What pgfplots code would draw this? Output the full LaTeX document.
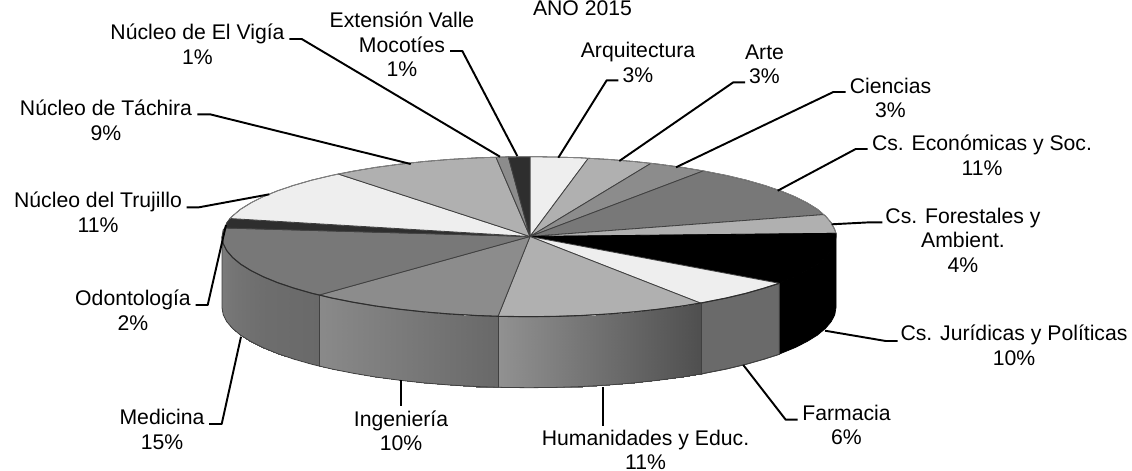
\documentclass[border=0pt]{standalone}
\usepackage{fontspec}
\setmainfont{Liberation Sans}
\usepackage{pgfplots}
\pgfplotsset{compat=1.18}
\definecolor{cLt}{HTML}{EEEEEE}
\definecolor{cMd}{HTML}{B0B0B0}
\definecolor{cGr}{HTML}{8C8C8C}
\definecolor{cDk}{HTML}{787878}
\definecolor{cXd}{HTML}{2E2E2E}
\definecolor{cWl}{HTML}{6A6A6A}
\definecolor{cEd}{HTML}{404040}
\definecolor{cRm}{HTML}{808080}
\tikzset{
  slice/.style={draw=cEd, line width=0.6pt, line join=round},
  leader/.style={draw=black, line width=1.45pt, line join=round},
  lab/.style={overlay, align=center, text=black, inner sep=0pt,
    font=\fontsize{15.9}{18.4}\selectfont},
}
\begin{document}
\begin{tikzpicture}
\begin{axis}[
  scale only axis, width=849pt, height=353.25pt,
  xmin=0, xmax=1132, ymin=0, ymax=471, y dir=reverse,
  hide axis, no markers,
  colormap={bw}{gray(0cm)=(0); gray(1cm)=(1)},
  point meta min=0, point meta max=1,
  wall/.style={surf, shader=interp, mesh/rows=2, point meta=explicit},
]
% hide axis draws no frame, so keep the page size with an empty path
\path (axis cs:0,0) rectangle (axis cs:1132,471);
% side walls
\addplot[fill=black, draw=black, line width=0.5pt] coordinates {
  (836,233.3)(836,236.7)(834.8,243.7)(831.3,250.6)(825.5,257.4)(817.5,264.1)(807.2,270.5)(794.9,276.7)(780.5,282.6)(779.3,283.3)
  (779.3,354.3)(780.5,353.6)(794.9,347.7)(807.2,341.5)(817.5,335.1)(825.5,328.4)(831.3,321.6)(834.8,314.7)(836,307.7)} -- cycle;
\addplot[fill=cWl, slice] coordinates {
  (779.3,283.3)(764.2,288.1)(746.1,293.3)(726.3,298)(705.1,302.2)(701,303.3)
  (701,374.3)(705.1,373.2)(726.3,369)(746.1,364.3)(764.2,359.1)(779.3,354.3)} -- cycle;
\addplot[wall] table[meta=m] {
x y m
701 303.3 .31
682.5 306 .334
658.7 309.2 .364
634 311.9 .396
608.5 314 .428
582.3 315.5 .462
555.8 316.4 .496
529 316.7 .53
498 316.4 .57
701 374.3 .31
682.5 377 .334
658.7 380.2 .364
634 382.9 .396
608.5 385 .428
582.3 386.5 .462
555.8 387.4 .496
529 387.7 .53
498 387.4 .57
};
\addplot[wall] table[meta=m] {
x y m
498 316.4 .41
475.7 315.5 .426
449.5 314 .445
424 311.9 .464
399.3 309.2 .482
375.5 306 .499
352.9 302.2 .515
331.7 298 .531
319.3 295 .54
498 387.4 .41
475.7 386.5 .426
449.5 385 .445
424 382.9 .464
399.3 380.2 .482
375.5 377 .499
352.9 373.2 .515
331.7 369 .531
319.3 366 .54
};
\addplot[wall] table[meta=m] {
x y m
319.3 295 .41
311.9 293.3 .415
293.8 288.1 .42
277.5 282.6 .425
263.1 276.7 .43
250.8 270.5 .44
240.5 264.1 .45
232.5 257.4 .46
226.7 250.6 .47
223.2 243.7 .48
222 236.7 .48
319.3 366 .41
311.9 364.3 .415
293.8 359.1 .42
277.5 353.6 .425
263.1 347.7 .43
250.8 341.5 .44
240.5 335.1 .45
232.5 328.4 .46
226.7 321.6 .47
223.2 314.7 .48
222 307.7 .48
};
% wall outlines
\addplot[slice] coordinates {(701,303.3)(701,374.3)};
\addplot[slice] coordinates {(498,316.4)(498,387.4)};
\addplot[slice] coordinates {(319.3,295)(319.3,366)};
\addplot[slice] coordinates {
  (222,236.7)(222,307.7)(223.2,314.7)(226.7,321.6)(232.5,328.4)(240.5,335.1)(250.8,341.5)(263.1,347.7)(277.5,353.6)(293.8,359.1)(311.9,364.3)(331.7,369)(352.9,373.2)(375.5,377)(399.3,380.2)(424,382.9)(449.5,385)(475.7,386.5)(502.2,387.4)(529,387.7)(555.8,387.4)(582.3,386.5)(608.5,385)(634,382.9)(658.7,380.2)(682.5,377)(705.1,373.2)(726.3,369)(746.1,364.3)(764.2,359.1)(779.3,354.3)};
% top face
\addplot[fill=cLt, slice] coordinates {(530,236.5)(530,156.7)(555.8,157)(582.3,157.9)(588.3,158.3)} -- cycle;
\addplot[fill=cMd, slice] coordinates {(530,236.5)(588.3,158.3)(608.5,159.4)(634,161.5)(651,163.3)} -- cycle;
\addplot[fill=cGr, slice] coordinates {(530,236.5)(651,163.3)(658.7,164.2)(682.5,167.4)(703.3,170.9)} -- cycle;
\addplot[fill=cDk, slice] coordinates {(530,236.5)(703.3,170.9)(726.3,175.4)(746.1,180.1)(764.2,185.3)(780.5,190.8)(794.9,196.7)(807.2,202.9)(817.5,209.3)(823.5,214.6)} -- cycle;
\addplot[fill=cMd, slice] coordinates {(530,236.5)(823.5,214.6)(825.5,216)(831.3,222.8)(834.8,229.7)(836,233.3)} -- cycle;
\addplot[fill=black, draw=black, line width=0.6pt] coordinates {(530,236.5)(836,233.3)(836,236.7)(834.8,243.7)(831.3,250.6)(825.5,257.4)(817.5,264.1)(807.2,270.5)(794.9,276.7)(780.5,282.6)(779.3,283.3)} -- cycle;
\addplot[fill=cLt, slice] coordinates {(530,236.5)(779.3,283.3)(764.2,288.1)(746.1,293.3)(726.3,298)(705.1,302.2)(701,303.3)} -- cycle;
\addplot[fill=cMd, slice] coordinates {(530,236.5)(701,303.3)(682.5,306)(658.7,309.2)(634,311.9)(608.5,314)(582.3,315.5)(555.8,316.4)(529,316.7)(498,316.4)} -- cycle;
\addplot[fill=cGr, slice] coordinates {(530,236.5)(498,316.4)(475.7,315.5)(449.5,314)(424,311.9)(399.3,309.2)(375.5,306)(352.9,302.2)(331.7,298)(319.3,295)} -- cycle;
\addplot[fill=cDk, slice] coordinates {(530,236.5)(319.3,295)(311.9,293.3)(293.8,288.1)(277.5,282.6)(263.1,276.7)(250.8,270.5)(240.5,264.1)(232.5,257.4)(226.7,250.6)(223.2,243.7)(222,236.7)(223.2,229.7)(225,228)} -- cycle;
\addplot[fill=cXd, slice] coordinates {(530,236.5)(225,228)(226.7,222.8)(230,218.5)} -- cycle;
\addplot[fill=cLt, slice] coordinates {(530,236.5)(230,218.5)(232.5,216)(240.5,209.3)(250.8,202.9)(263.1,196.7)(277.5,190.8)(293.8,185.3)(311.9,180.1)(331.7,175.4)(338.3,174)} -- cycle;
\addplot[fill=cMd, slice] coordinates {(530,236.5)(338.3,174)(352.9,171.2)(375.5,167.4)(399.3,164.2)(424,161.5)(449.5,159.4)(475.7,157.9)(496,157.2)} -- cycle;
\addplot[fill=cGr, slice] coordinates {(530,236.5)(496,157.2)(502.2,157)(508.3,156.8)} -- cycle;
\addplot[fill=cXd, slice] coordinates {(530,236.5)(508.3,156.8)(529,156.7)(530,156.7)} -- cycle;
% rim: pale at the back, dark along the front
\addplot[draw=cRm, line width=0.6pt] coordinates {(230,218.5)(232.5,216)(240.5,209.3)(250.8,202.9)(263.1,196.7)(277.5,190.8)(293.8,185.3)(311.9,180.1)(331.7,175.4)(352.9,171.2)(375.5,167.4)(399.3,164.2)(424,161.5)(449.5,159.4)(475.7,157.9)(502.2,157)(529,156.7)(555.8,157)(582.3,157.9)(608.5,159.4)(634,161.5)(658.7,164.2)(682.5,167.4)(705.1,171.2)(726.3,175.4)(746.1,180.1)(764.2,185.3)(780.5,190.8)(794.9,196.7)(807.2,202.9)(817.5,209.3)(825.5,216)(831.3,222.8)(834.8,229.7)(836,233.3)};
\addplot[draw=cXd, line width=0.8pt, line join=round] coordinates {(222,236.7)(223.2,243.7)(226.7,250.6)(232.5,257.4)(240.5,264.1)(250.8,270.5)(263.1,276.7)(277.5,282.6)(293.8,288.1)(311.9,293.3)(331.7,298)(352.9,302.2)(375.5,306)(399.3,309.2)(424,311.9)(449.5,314)(475.7,315.5)(502.2,316.4)(529,316.7)(555.8,316.4)(582.3,315.5)(608.5,314)(634,311.9)(658.7,309.2)(682.5,306)(705.1,302.2)(726.3,298)(746.1,293.3)(764.2,288.1)(779.3,283.3)};
% leader lines
\addplot[leader] coordinates {(618.3,80.3)(606.7,80.3)(558.3,157.7)};
\addplot[leader] coordinates {(745,82.3)(733.3,82.3)(619.3,161)};
\addplot[leader] coordinates {(845.7,92)(833.3,92)(676,167.3)};
\addplot[leader] coordinates {(867.7,149)(855.7,149)(777.7,190.7)};
\addplot[leader] coordinates {(882.3,222.3)(870,222.3)(831.7,224.3)};
\addplot[leader] coordinates {(897.7,341)(885.7,341)(825,330.7)};
\addplot[leader] coordinates {(797.7,419.7)(785.7,419.7)(743.3,365)};
\addplot[leader] coordinates {(602.7,387)(602.7,425.7)};
\addplot[leader] coordinates {(401,380)(401,406)};
\addplot[leader] coordinates {(209,424)(221.7,424)(241,336.7)};
\addplot[leader] coordinates {(195.7,305)(207.7,305)(226,225)};
\addplot[leader] coordinates {(186.7,207.3)(199,207.3)(269.3,194.3)};
\addplot[leader] coordinates {(197.3,114.3)(210,114.3)(410.7,164)};
\addplot[leader] coordinates {(289.3,39)(301.7,39)(500,156.7)};
\addplot[leader] coordinates {(450,51)(462.3,51)(517.3,156)};
% labels
\node[lab] at (axis cs:582.5,6) {AÑO 2015};
\node[lab] at (axis cs:638,62.5) {Arquitectura\\3\%};
\node[lab] at (axis cs:764.5,64.5) {Arte\\3\%};
\node[lab] at (axis cs:890.5,98) {Ciencias\\3\%};
\node[lab] at (axis cs:982,155) {Cs. Económicas y Soc.\\11\%};
\node[lab] at (axis cs:963,240) {Cs. Forestales y\\Ambient.\\4\%};
\node[lab] at (axis cs:1014,345.5) {Cs. Jurídicas y Políticas\\10\%};
\node[lab] at (axis cs:846.5,424.7) {Farmacia\\6\%};
\node[lab] at (axis cs:645.5,450) {Humanidades y Educ.\\11\%};
\node[lab] at (axis cs:401,431) {Ingeniería\\10\%};
\node[lab] at (axis cs:162,429.5) {Medicina\\15\%};
\node[lab] at (axis cs:133,310.5) {Odontología\\2\%};
\node[lab] at (axis cs:98,212.5) {Núcleo del Trujillo\\11\%};
\node[lab] at (axis cs:106,120.5) {Núcleo de Táchira\\9\%};
\node[lab] at (axis cs:197.5,44.5) {Núcleo de El Vigía\\1\%};
\node[lab] at (axis cs:402,44.5) {Extensión Valle\\Mocotíes\\1\%};
\end{axis}
\end{tikzpicture}
\end{document}
